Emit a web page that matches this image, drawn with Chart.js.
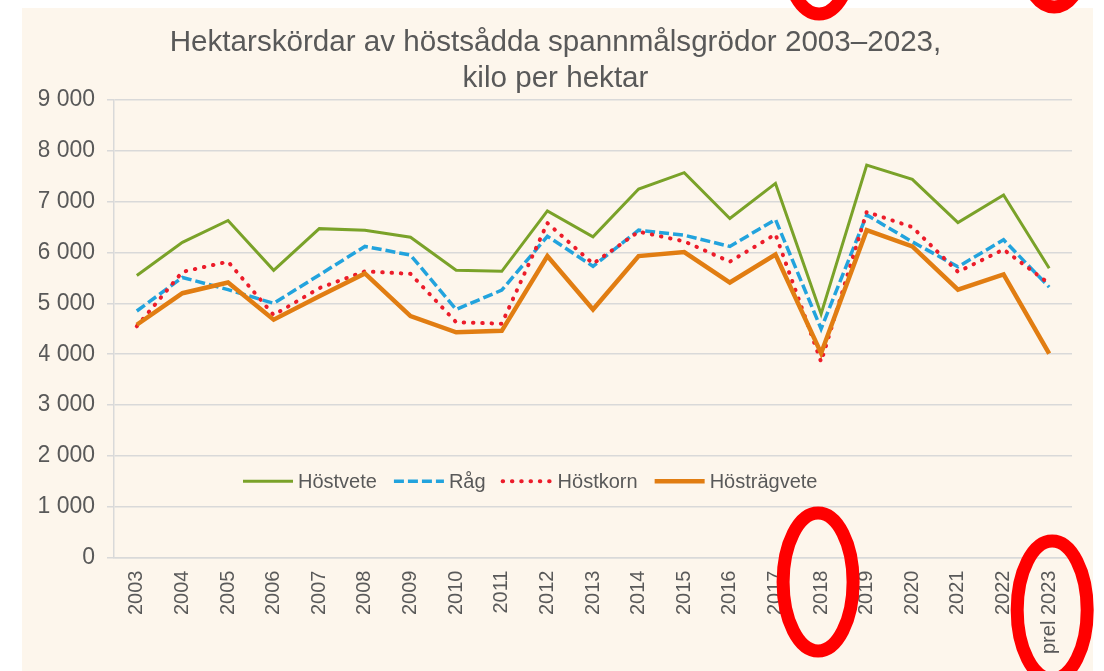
<!DOCTYPE html>
<html>
<head>
<meta charset="utf-8">
<script src="https://cdn.jsdelivr.net/npm/chart.js@4/dist/chart.umd.min.js"></script>
<style>
  html, body { margin: 0; padding: 0; background: #ffffff; }
</style>
</head>
<body>
<canvas id="myChart" width="1104" height="671"></canvas>
<script>
const years = ['2003', '2004', '2005', '2006', '2007', '2008', '2009', '2010', '2011', '2012',
    '2013', '2014', '2015', '2016', '2017', '2018', '2019', '2020', '2021', '2022', 'prel 2023'];

const hostvete = [5550, 6200, 6630, 5650, 6470, 6440, 6300, 5650, 5630, 6820,
    6310, 7250, 7570, 6670, 7360, 4790, 7720, 7440, 6590, 7130, 5690];
const rag = [4850, 5510, 5270, 5000, 5560, 6120, 5950, 4880, 5260, 6320,
    5730, 6440, 6340, 6120, 6650, 4500, 6740, 6210, 5720, 6250, 5320];
const hostkorn = [4550, 5620, 5820, 4770, 5300, 5630, 5580, 4630, 4600, 6580,
    5780, 6410, 6220, 5820, 6360, 3850, 6800, 6500, 5620, 6060, 5390];
const hostragvete = [4580, 5200, 5410, 4680, 5140, 5590, 4750, 4430, 4460, 5930,
    4880, 5930, 6010, 5410, 5960, 4020, 6440, 6120, 5270, 5570, 4010];

const seriesNames = ['Höstvete', 'Råg', 'Höstkorn', 'Hösträgvete'];
const yTicks = [0, 1000, 2000, 3000, 4000, 5000, 6000, 7000, 8000, 9000];

const textGray = '#595959';
const gridGray = '#d9d9d9';
const fontFamily = "'Liberation Sans', Arial, sans-serif";

// "9000" -> "9 000"
const spaced = (v) => String(v).replace(/\B(?=(\d{3})+(?!\d))/g, ' ');

// white frame with the beige slide behind the chart
const slideBackground = {
    id: 'slideBackground',
    beforeDraw(chart) {
        const ctx = chart.ctx;
        ctx.save();
        ctx.fillStyle = '#ffffff';
        ctx.fillRect(0, 0, chart.width, chart.height);
        ctx.fillStyle = '#fdf6ec';
        ctx.fillRect(22, 8, 1071, chart.height - 8);
        ctx.restore();
    }
};

// legend drawn inside the plot, like the original
const innerLegend = {
    id: 'innerLegend',
    afterDatasetsDraw(chart) {
        const ctx = chart.ctx;
        const area = chart.chartArea;
        const yMid = chart.scales.y.getPixelForValue(1500);
        let x = area.left + 129;
        ctx.save();
        ctx.font = '20px ' + fontFamily;
        ctx.textBaseline = 'middle';
        chart.data.datasets.forEach((ds) => {
            ctx.beginPath();
            ctx.strokeStyle = ds.borderColor;
            ctx.lineWidth = ds.borderWidth;
            ctx.lineCap = ds.borderCapStyle || 'butt';
            ctx.setLineDash(ds.borderDash || []);
            ctx.moveTo(x, yMid);
            ctx.lineTo(x + 50, yMid);
            ctx.stroke();
            ctx.setLineDash([]);
            x += 55;
            ctx.fillStyle = textGray;
            ctx.fillText(ds.label, x, yMid + 1);
            x += ctx.measureText(ds.label).width + 17;
        });
        ctx.restore();
    }
};

// red rings that were painted over the slide
const redRings = {
    id: 'redRings',
    afterDraw(chart) {
        const ctx = chart.ctx;
        const xs = chart.scales.x;
        const x2018 = xs.getPixelForValue(15) - 3;
        const x2023 = xs.getPixelForValue(20) + 3;
        ctx.save();
        ctx.strokeStyle = '#ff0000';
        ctx.lineWidth = 13;
        [[x2018, 582], [x2023, 610], [x2018 + 1, -55], [x2023 + 2, -62]].forEach(([cx, cy]) => {
            ctx.beginPath();
            ctx.ellipse(cx, cy, 35, 69, 0, 0, Math.PI * 2);
            ctx.stroke();
        });
        ctx.restore();
    }
};

const data = {
    labels: years,
    datasets: [{
        label: seriesNames[0],
        data: hostvete,
        borderColor: '#7aa229',
        borderWidth: 3,
        order: 3
    }, {
        label: seriesNames[1],
        data: rag,
        borderColor: '#22a3dd',
        borderWidth: 3.5,
        borderDash: [10, 4],
        order: 2
    }, {
        label: seriesNames[2],
        data: hostkorn,
        borderColor: '#ec1c2a',
        borderWidth: 4,
        borderDash: [0.5, 8.8],
        borderCapStyle: 'round',
        order: 1
    }, {
        label: seriesNames[3],
        data: hostragvete,
        borderColor: '#e17d12',
        borderWidth: 4.5,
        order: 0
    }]
};

const config = {
    type: 'line',
    data: data,
    options: {
        responsive: false,
        devicePixelRatio: 1,
        animation: false,
        layout: {
            padding: { top: 8, left: 39, right: 32, bottom: 4 }
        },
        elements: {
            point: { radius: 0, hoverRadius: 0 },
            line: { tension: 0, fill: false }
        },
        plugins: {
            legend: { display: false },
            tooltip: { enabled: false },
            title: {
                display: true,
                text: ['Hektarskördar av höstsådda spannmålsgrödor 2003–2023,', 'kilo per hektar'],
                color: textGray,
                font: { family: fontFamily, size: 29.6, weight: 'normal', lineHeight: 36 / 29.6 },
                padding: { top: 17, bottom: 3 }
            }
        },
        scales: {
            x: {
                offset: true,
                grid: { display: false, drawTicks: false, tickLength: 0 },
                border: { display: true, color: gridGray, width: 1.5 },
                ticks: {
                    color: textGray,
                    font: { family: fontFamily, size: 20 },
                    maxRotation: 90,
                    minRotation: 90,
                    padding: 13,
                    autoSkip: false
                }
            },
            y: {
                min: yTicks[0],
                max: yTicks[yTicks.length - 1],
                afterBuildTicks: (scale) => {
                    scale.ticks = yTicks.map((v) => ({ value: v }));
                },
                afterFit: (scale) => {
                    scale.width = 75;
                },
                grid: { color: gridGray, lineWidth: 1.5, tickLength: 7 },
                border: { display: true, color: gridGray, width: 1.5 },
                ticks: {
                    color: textGray,
                    font: { family: fontFamily, size: 23 },
                    padding: 12,
                    callback: (value) => spaced(value)
                }
            }
        }
    },
    plugins: [slideBackground, innerLegend, redRings]
};

const myChart = new Chart(document.getElementById('myChart'), config);
</script>
</body>
</html>
